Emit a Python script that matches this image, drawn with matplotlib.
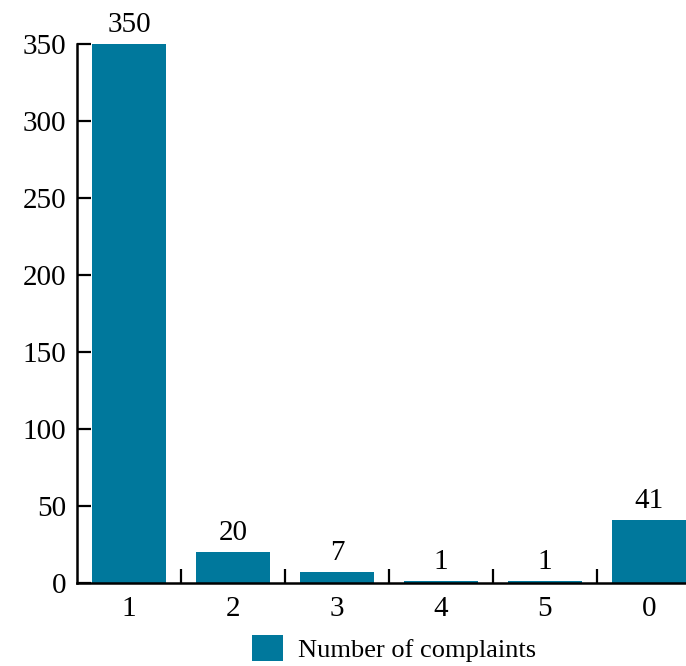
import matplotlib.pyplot as plt
import numpy as np

categories = ['1', '2', '3', '4', '5', '0']
complaints = [350, 20, 7, 1, 1, 41]
y_ticks = [0, 50, 100, 150, 200, 250, 300, 350]

bar_color = '#00789c'

plt.rcParams['font.family'] = ['Liberation Serif', 'DejaVu Serif']
plt.rcParams['font.size'] = 21

fig = plt.figure(figsize=(6.86, 6.66), dpi=100)
ax = fig.add_axes([77 / 686, 83 / 666, 624 / 686, 539 / 666])

x = np.arange(len(categories))
bars = ax.bar(x, complaints, width=0.72, color=bar_color, label='Number of complaints')
for rect, val in zip(bars, complaints):
    ax.text(rect.get_x() + rect.get_width() / 2, rect.get_height() + 4, str(val),
            ha='center', va='bottom', fontsize=21)

ax.set_xlim(-0.5, len(categories) - 0.5)
ax.set_ylim(0, 350)
ax.set_yticks(y_ticks)
ax.set_xticks(x)
ax.set_xticklabels(categories)
# separators between categories instead of ticks under the labels
ax.set_xticks(x[:-1] + 0.5, minor=True)
ax.tick_params(axis='x', which='major', length=0, pad=9)
ax.tick_params(axis='x', which='minor', direction='in', length=10, width=1.6)
ax.tick_params(axis='y', direction='in', length=10, width=1.6, pad=8)

for side in ['top', 'right']:
    ax.spines[side].set_visible(False)
for side in ['left', 'bottom']:
    ax.spines[side].set_linewidth(1.8)

fig.legend(handles=[bars], labels=['Number of complaints'], loc='lower center',
           bbox_to_anchor=(0.575, -0.03), frameon=False, fontsize=19,
           handlelength=1.15, handleheight=1.15, handletextpad=0.6)

fig.savefig('out.png', dpi=100)
